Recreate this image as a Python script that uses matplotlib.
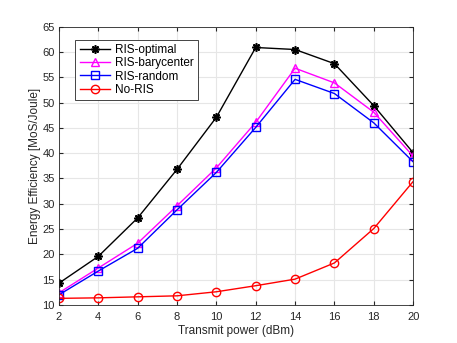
import matplotlib
matplotlib.use("Agg")
import matplotlib.pyplot as plt

plt.rcParams['font.family'] = ['Liberation Sans', 'DejaVu Sans']

power = [2, 4, 6, 8, 10, 12, 14, 16, 18, 20]
ris_optimal = [14.3, 19.6, 27.2, 36.8, 47.1, 60.9, 60.5, 57.7, 49.4, 40.1]
ris_barycenter = [12.4, 17.3, 22.2, 29.6, 37.1, 46.1, 56.8, 53.9, 48.1, 39.4]
ris_random = [12.0, 16.7, 21.2, 28.8, 36.2, 45.1, 54.6, 51.8, 46.0, 38.3]
no_ris = [11.3, 11.4, 11.6, 11.8, 12.6, 13.8, 15.1, 18.3, 25.1, 34.4]

fig = plt.figure(figsize=(4.57, 3.43), dpi=100)
ax = fig.add_axes([0.129, 0.111, 0.775, 0.811])

# asterisk marker like matlab's '*'
ax.plot(power, ris_optimal, color='k', marker=(8, 2, 0), ms=6, mew=1.2, lw=1,
        label='RIS-optimal')
ax.plot(power, ris_barycenter, color='#ff00ff', marker='^', ms=6, lw=1,
        mfc='none', label='RIS-barycenter')
ax.plot(power, ris_random, color='#0000ff', marker='s', ms=5.5, lw=1,
        mfc='none', label='RIS-random')
ax.plot(power, no_ris, color='#ff0000', marker='o', ms=6, lw=1,
        mfc='none', label='No-RIS')

ax.set_xlim(2, 20)
ax.set_ylim(10, 65)
ax.set_xticks(range(2, 21, 2))
ax.set_yticks(range(10, 66, 5))
ax.grid(True, color='#e6e6e6', lw=0.8)
ax.set_axisbelow(True)
ax.tick_params(direction='in', labelsize=8, length=3, top=True, right=True,
               colors='#262626')
ax.tick_params(axis='x', pad=5)
ax.tick_params(axis='y', pad=3)
for s in ax.spines.values():
    s.set_color('#262626')
    s.set_linewidth(0.6)

ax.set_xlabel('Transmit power (dBm)', fontsize=8.5, color='#262626', labelpad=2)
ax.set_ylabel('Energy Efficiency [MoS/Joule]', fontsize=8.5, color='#262626', labelpad=1)

leg = ax.legend(loc='upper left', bbox_to_anchor=(0.03, 0.975), fontsize=8.5,
                fancybox=False, edgecolor='#262626', framealpha=1,
                borderpad=0.35, labelspacing=0.12, handlelength=2.6,
                handletextpad=0.4)
leg.get_frame().set_linewidth(0.6)

fig.savefig('out.png', dpi=100)
